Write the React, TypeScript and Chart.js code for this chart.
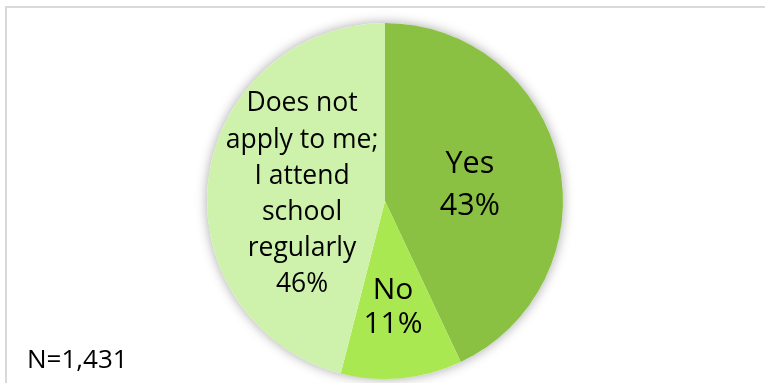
import React, { useEffect, useRef } from "react";
import { Chart, registerables } from "chart.js";

Chart.register(...registerables);

const categories = ["Yes", "No", "Does not apply to me; I attend school regularly"];
const categoryLines = [["Yes"], ["No"], ["Does not", "apply to me;", "I attend", "school", "regularly"]];
const values = [43, 11, 46];
const sliceColors = ["#8BC143", "#A9E851", "#CEF2AC"];
const sampleSize = "N=1,431";

// label anchor relative to pie centre, in units of the pie radius
const labelOffsets = [
  [0.477, -0.1],
  [0.045, 0.585],
  [-0.466, -0.048],
];
const labelFontSizes = [30.5, 30, 26.5];
const labelLineHeights = [41.5, 34.5, 36.2];

const FONT = '"Open Sans", "Noto Sans", sans-serif';

const shadowPlugin = {
  id: "pieShadow",
  beforeDatasetsDraw(chart: any) {
    const meta = chart.getDatasetMeta(0);
    if (!meta.data.length) return;
    const { x, y, outerRadius } = meta.data[0].getProps(["x", "y", "outerRadius"], true);
    const ctx = chart.ctx;
    ctx.save();
    ctx.beginPath();
    ctx.arc(x, y, outerRadius, 0, Math.PI * 2);
    ctx.shadowColor = "rgba(0,0,0,0.35)";
    ctx.shadowBlur = 12;
    ctx.fillStyle = "#ffffff";
    ctx.fill();
    ctx.restore();
  },
};

const labelPlugin = {
  id: "sliceLabels",
  afterDatasetsDraw(chart: any) {
    const meta = chart.getDatasetMeta(0);
    const ctx = chart.ctx;
    ctx.save();
    ctx.fillStyle = "#000000";
    ctx.textAlign = "center";
    ctx.textBaseline = "alphabetic";
    meta.data.forEach((arc: any, i: number) => {
      const { x, y, outerRadius } = arc.getProps(["x", "y", "outerRadius"], true);
      const cx = x + labelOffsets[i][0] * outerRadius;
      const cy = y + labelOffsets[i][1] * outerRadius;
      const lines = [...categoryLines[i], `${values[i]}%`];
      const size = labelFontSizes[i];
      const lh = labelLineHeights[i];
      ctx.font = `${size}px ${FONT}`;
      const n = lines.length;
      lines.forEach((t, k) => {
        const lineCenter = cy + (k - (n - 1) / 2) * lh;
        ctx.fillText(t, cx, lineCenter + 0.357 * size);
      });
    });
    ctx.restore();
  },
};

const notePlugin = {
  id: "sampleNote",
  afterDraw(chart: any) {
    const ctx = chart.ctx;
    ctx.save();
    ctx.fillStyle = "#000000";
    ctx.font = `26px ${FONT}`;
    ctx.textAlign = "left";
    ctx.textBaseline = "alphabetic";
    ctx.fillText(sampleSize, 27, 367.5);
    ctx.restore();
  },
};

export default function App() {
  const canvasRef = useRef<HTMLCanvasElement | null>(null);

  useEffect(() => {
    if (!canvasRef.current) return;
    const chart = new Chart(canvasRef.current, {
      type: "pie",
      data: {
        labels: categories,
        datasets: [
          {
            data: values,
            backgroundColor: sliceColors,
            borderWidth: 0,
          },
        ],
      },
      options: {
        responsive: false,
        animation: false,
        layout: { padding: { left: 5, right: 0, top: 23, bottom: 4 } },
        plugins: {
          legend: { display: false },
          tooltip: { enabled: false },
          title: { display: false },
        },
      },
      plugins: [shadowPlugin, labelPlugin, notePlugin],
    });
    return () => chart.destroy();
  }, []);

  return (
    <div
      style={{
        position: "fixed",
        left: 0,
        top: 0,
        width: 765,
        height: 383,
        overflow: "hidden",
        background: "#ffffff",
      }}
    >
      <div
        style={{
          position: "absolute",
          left: 5,
          top: 6,
          width: 820,
          height: 420,
          borderTop: "2px solid #d9d9d9",
          borderLeft: "2px solid #d9d9d9",
        }}
      />
      <canvas
        ref={canvasRef}
        width={765}
        height={383}
        style={{ position: "absolute", left: 0, top: 0, display: "block" }}
      />
    </div>
  );
}
